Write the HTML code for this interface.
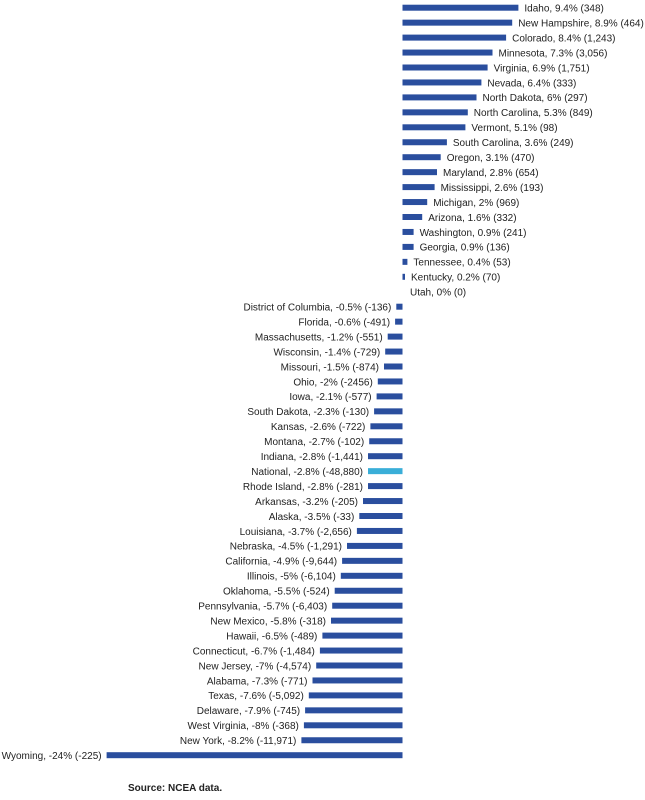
<!DOCTYPE html>
<html><head><meta charset="utf-8"><style>
body{margin:0;background:#fff;width:645px;height:795px;overflow:hidden}
svg text{font-family:"Liberation Sans",Arial,sans-serif;font-size:10px;fill:#222}
.b{fill:#2a4e9e}
.p text{transform:translateX(1px)}
</style></head><body>
<svg width="645" height="795" xmlns="http://www.w3.org/2000/svg">
<g class="p">
<rect class="b" x="402.5" y="4.7" width="115.9" height="6"/><text x="523.4" y="11.5">Idaho, 9.4% (348)</text>
<rect class="b" x="402.5" y="19.65" width="109.7" height="6"/><text x="517.2" y="26.45">New Hampshire, 8.9% (464)</text>
<rect class="b" x="402.5" y="34.6" width="103.6" height="6"/><text x="511.1" y="41.4">Colorado, 8.4% (1,243)</text>
<rect class="b" x="402.5" y="49.55" width="90" height="6"/><text x="497.5" y="56.35">Minnesota, 7.3% (3,056)</text>
<rect class="b" x="402.5" y="64.5" width="85.1" height="6"/><text x="492.6" y="71.3">Virginia, 6.9% (1,751)</text>
<rect class="b" x="402.5" y="79.45" width="78.9" height="6"/><text x="486.4" y="86.25">Nevada, 6.4% (333)</text>
<rect class="b" x="402.5" y="94.4" width="74" height="6"/><text x="481.5" y="101.2">North Dakota, 6% (297)</text>
<rect class="b" x="402.5" y="109.35" width="65.3" height="6"/><text x="472.8" y="116.15">North Carolina, 5.3% (849)</text>
<rect class="b" x="402.5" y="124.3" width="62.9" height="6"/><text x="470.4" y="131.1">Vermont, 5.1% (98)</text>
<rect class="b" x="402.5" y="139.25" width="44.4" height="6"/><text x="451.9" y="146.05">South Carolina, 3.6% (249)</text>
<rect class="b" x="402.5" y="154.2" width="38.2" height="6"/><text x="445.7" y="161">Oregon, 3.1% (470)</text>
<rect class="b" x="402.5" y="169.15" width="34.5" height="6"/><text x="442" y="175.95">Maryland, 2.8% (654)</text>
<rect class="b" x="402.5" y="184.1" width="32.1" height="6"/><text x="439.6" y="190.9">Mississippi, 2.6% (193)</text>
<rect class="b" x="402.5" y="199.05" width="24.7" height="6"/><text x="432.2" y="205.85">Michigan, 2% (969)</text>
<rect class="b" x="402.5" y="214" width="19.7" height="6"/><text x="427.2" y="220.8">Arizona, 1.6% (332)</text>
<rect class="b" x="402.5" y="228.95" width="11.1" height="6"/><text x="418.6" y="235.75">Washington, 0.9% (241)</text>
<rect class="b" x="402.5" y="243.9" width="11.1" height="6"/><text x="418.6" y="250.7">Georgia, 0.9% (136)</text>
<rect class="b" x="402.5" y="258.85" width="4.9" height="6"/><text x="412.4" y="265.65">Tennessee, 0.4% (53)</text>
<rect class="b" x="402.5" y="273.8" width="2.5" height="6"/><text x="410" y="280.6">Kentucky, 0.2% (70)</text>
<text x="409" y="295.55">Utah, 0% (0)</text>
</g>
<g text-anchor="end">
<rect class="b" x="396.3" y="303.7" width="6.2" height="6"/><text x="391.3" y="310.5">District of Columbia,  -0.5% (-136)</text>
<rect class="b" x="395.1" y="318.65" width="7.4" height="6"/><text x="390.1" y="325.45">Florida, -0.6% (-491)</text>
<rect class="b" x="387.7" y="333.6" width="14.8" height="6"/><text x="382.7" y="340.4">Massachusetts, -1.2% (-551)</text>
<rect class="b" x="385.2" y="348.55" width="17.3" height="6"/><text x="380.2" y="355.35">Wisconsin, -1.4% (-729)</text>
<rect class="b" x="384" y="363.5" width="18.5" height="6"/><text x="379" y="370.3">Missouri, -1.5% (-874)</text>
<rect class="b" x="377.8" y="378.45" width="24.7" height="6"/><text x="372.8" y="385.25">Ohio, -2% (-2456)</text>
<rect class="b" x="376.6" y="393.4" width="25.9" height="6"/><text x="371.6" y="400.2">Iowa, -2.1% (-577)</text>
<rect class="b" x="374.1" y="408.35" width="28.4" height="6"/><text x="369.1" y="415.15">South Dakota, -2.3% (-130)</text>
<rect class="b" x="370.4" y="423.3" width="32.1" height="6"/><text x="365.4" y="430.1">Kansas, -2.6% (-722)</text>
<rect class="b" x="369.2" y="438.25" width="33.3" height="6"/><text x="364.2" y="445.05">Montana, -2.7% (-102)</text>
<rect class="b" x="368" y="453.2" width="34.5" height="6"/><text x="363" y="460">Indiana, -2.8% (-1,441)</text>
<rect fill="#3aaed8" x="368" y="468.15" width="34.5" height="6"/><text x="363" y="474.95">National, -2.8% (-48,880)</text>
<rect class="b" x="368" y="483.1" width="34.5" height="6"/><text x="363" y="489.9">Rhode Island, -2.8% (-281)</text>
<rect class="b" x="363" y="498.05" width="39.5" height="6"/><text x="358" y="504.85">Arkansas, -3.2% (-205)</text>
<rect class="b" x="359.3" y="513" width="43.2" height="6"/><text x="354.3" y="519.8">Alaska, -3.5% (-33)</text>
<rect class="b" x="356.9" y="527.95" width="45.6" height="6"/><text x="351.9" y="534.75">Louisiana, -3.7% (-2,656)</text>
<rect class="b" x="347" y="542.9" width="55.5" height="6"/><text x="342" y="549.7">Nebraska, -4.5% (-1,291)</text>
<rect class="b" x="342.1" y="557.85" width="60.4" height="6"/><text x="337.1" y="564.65">California, -4.9% (-9,644)</text>
<rect class="b" x="340.8" y="572.8" width="61.7" height="6"/><text x="335.8" y="579.6">Illinois, -5% (-6,104)</text>
<rect class="b" x="334.7" y="587.75" width="67.8" height="6"/><text x="329.7" y="594.55">Oklahoma, -5.5% (-524)</text>
<rect class="b" x="332.2" y="602.7" width="70.3" height="6"/><text x="327.2" y="609.5">Pennsylvania, -5.7% (-6,403)</text>
<rect class="b" x="331" y="617.65" width="71.5" height="6"/><text x="326" y="624.45">New Mexico, -5.8% (-318)</text>
<rect class="b" x="322.4" y="632.6" width="80.1" height="6"/><text x="317.4" y="639.4">Hawaii, -6.5% (-489)</text>
<rect class="b" x="319.9" y="647.55" width="82.6" height="6"/><text x="314.9" y="654.35">Connecticut, -6.7% (-1,484)</text>
<rect class="b" x="316.2" y="662.5" width="86.3" height="6"/><text x="311.2" y="669.3">New Jersey, -7% (-4,574)</text>
<rect class="b" x="312.5" y="677.45" width="90" height="6"/><text x="307.5" y="684.25">Alabama, -7.3% (-771)</text>
<rect class="b" x="308.8" y="692.4" width="93.7" height="6"/><text x="303.8" y="699.2">Texas, -7.6% (-5,092)</text>
<rect class="b" x="305.1" y="707.35" width="97.4" height="6"/><text x="300.1" y="714.15">Delaware, -7.9% (-745)</text>
<rect class="b" x="303.9" y="722.3" width="98.6" height="6"/><text x="298.9" y="729.1">West Virginia, -8% (-368)</text>
<rect class="b" x="301.4" y="737.25" width="101.1" height="6"/><text x="296.4" y="744.05">New York, -8.2% (-11,971)</text>
<rect class="b" x="106.6" y="752.2" width="295.9" height="6"/><text x="101.6" y="759">Wyoming, -24% (-225)</text>
</g>
<text x="128" y="791" style="font-weight:bold;font-size:10px">Source: NCEA data.</text>
</svg>
</body></html>
